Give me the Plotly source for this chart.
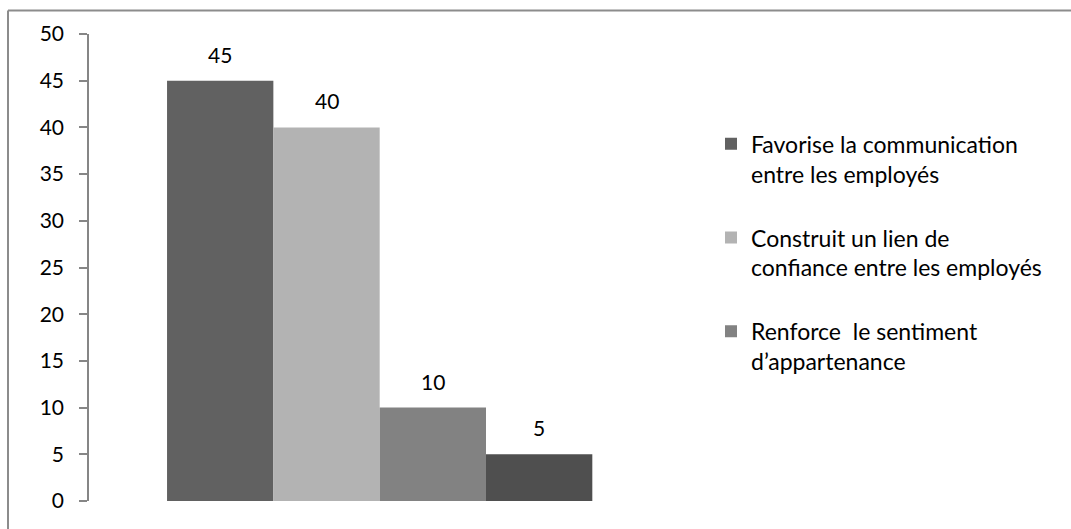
import plotly.graph_objects as go

series_names = [
    "Favorise la communication<br>entre les employés",
    "Construit un lien de<br>confiance entre les employés",
    "Renforce  le sentiment<br>d’appartenance",
    "Autre",
]
values = [45, 40, 10, 5]
colors = ["#616161", "#b3b3b3", "#828282", "#4f4f4f"]
show_in_legend = [True, True, True, False]
y_ticks = [0, 5, 10, 15, 20, 25, 30, 35, 40, 45, 50]

FONT = "Lato, Carlito, Calibri, sans-serif"

fig = go.Figure()
for i, (name, v, c, sl) in enumerate(zip(series_names, values, colors, show_in_legend)):
    fig.add_trace(go.Bar(
        x=[i], y=[v], name=name, marker=dict(color=c, line=dict(width=0)),
        width=1, showlegend=sl, legendgroup=f"g{i}",
    ))
    fig.add_annotation(x=i, y=v, text=str(v), showarrow=False, yanchor="bottom",
                       yshift=12, font=dict(family=FONT, size=21, color="black"))

W, H = 1071, 529
L, R, T, B = 89, 400, 33.5, 27.5
pw, ph = W - L - R, H - T - B

def px_x(p):
    return (p - L) / pw

def px_y(p):
    return (H - B - p) / ph

border = dict(color="#8c8c8c", width=2)
fig.add_shape(type="line", xref="paper", yref="paper", x0=px_x(8), x1=px_x(8),
              y0=px_y(540), y1=px_y(10), line=border)
fig.add_shape(type="line", xref="paper", yref="paper", x0=px_x(8), x1=px_x(1080),
              y0=px_y(10), y1=px_y(10), line=border)

fig.update_layout(
    width=W, height=H,
    margin=dict(l=L, r=R, t=T, b=B, pad=0),
    paper_bgcolor="white", plot_bgcolor="white",
    barmode="overlay",
    font=dict(family=FONT, size=21, color="black"),
    showlegend=True,
    legend=dict(x=px_x(711), y=px_y(122), xanchor="left", yanchor="top",
                font=dict(family=FONT, size=23, color="black"),
                valign="top",
                traceorder="grouped", tracegroupgap=31, bgcolor="rgba(0,0,0,0)"),
    xaxis=dict(visible=False, range=[-1.234, 4.24], fixedrange=True),
    yaxis=dict(range=[0, 50], tickvals=y_ticks, showgrid=False, zeroline=False,
               showline=True, linecolor="#868686", linewidth=1.5,
               ticks="outside", ticklen=8, tickcolor="#868686", tickwidth=1.5,
               ticklabelstandoff=11,
               tickfont=dict(family=FONT, size=21, color="black")),
)

fig.write_html("out.html")
